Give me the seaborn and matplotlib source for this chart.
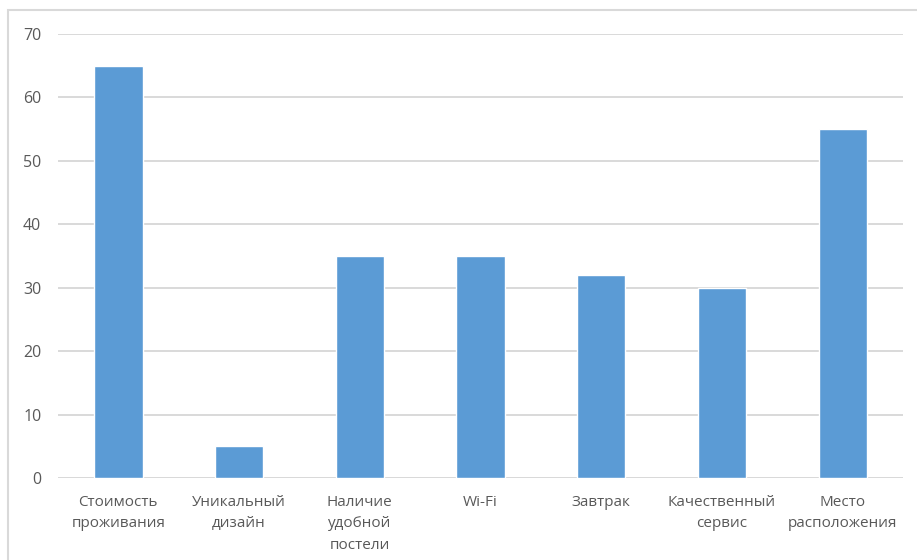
import matplotlib
matplotlib.use("Agg")
import matplotlib.pyplot as plt
import seaborn as sns
import pandas as pd
from matplotlib.patches import Rectangle

categories = [
    "Стоимость\nпроживания",
    "Уникальный\nдизайн",
    "Наличие\nудобной\nпостели",
    "Wi-Fi",
    "Завтрак",
    "Качественный\nсервис",
    "Место\nрасположения",
]
values = [65, 5, 35, 35, 32, 30, 55]
y_ticks = [0, 10, 20, 30, 40, 50, 60, 70]

sns.set_theme(style="white")
plt.rcParams["font.family"] = ["Open Sans", "DejaVu Sans"]

df = pd.DataFrame({"category": categories, "value": values})

fig = plt.figure(figsize=(9.17, 5.6), dpi=100)
fig.patch.set_facecolor("white")

# chart frame
W, H = 917, 560
fig.patches.append(Rectangle((8 / W, -0.1), 1.2, (H - 10) / H + 0.1,
                             transform=fig.transFigure, fill=False,
                             edgecolor="#d9d9d9", linewidth=1.5, zorder=0))

ax = fig.add_axes([58 / W, 1 - 478 / H, (903 - 58) / W, (478 - 34) / H])
sns.barplot(data=df, x="category", y="value", color="#5B9BD5",
            saturation=1, width=0.4, ax=ax, zorder=3)

ax.set_ylim(0, 70)
ax.set_xlim(-0.5, len(categories) - 0.5)
ax.set_yticks(y_ticks)
ax.yaxis.grid(True, color="#d9d9d9", linewidth=1.4, zorder=0)
ax.set_axisbelow(True)
for s in ax.spines.values():
    s.set_visible(False)
ax.axhline(0, color="#d9d9d9", linewidth=1.4, zorder=1)

ax.set_xlabel("")
ax.set_ylabel("")
ax.tick_params(axis="both", length=0, labelcolor="#595959")
ax.tick_params(axis="x", labelsize=11, pad=12)
ax.tick_params(axis="y", labelsize=11.5, pad=12)
for lab in ax.get_xticklabels():
    lab.set_linespacing(1.6)

fig.savefig("out.png", dpi=100, facecolor="white")
